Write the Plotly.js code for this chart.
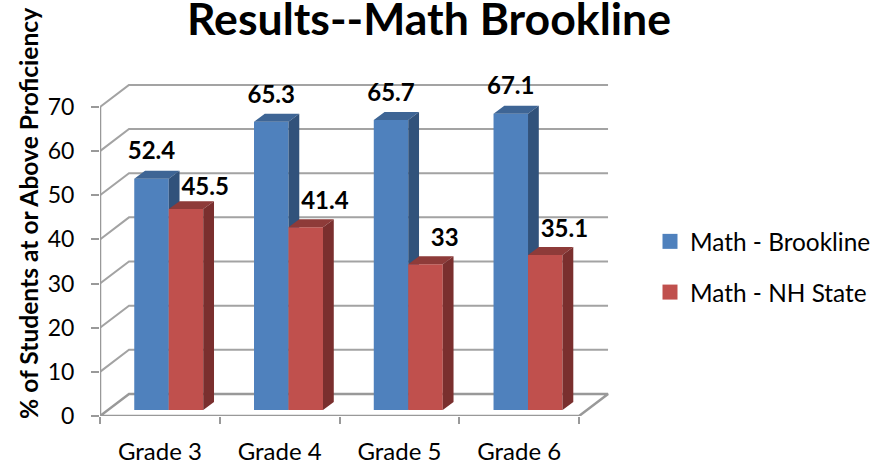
<!DOCTYPE html>
<html>
<head>
<meta charset="utf-8">
<script src="https://cdn.plot.ly/plotly-3.0.1.min.js"></script>
<style>html,body{margin:0;padding:0;background:#fff}</style>
</head>
<body>
<div id="chart" style="width:888px;height:464px"></div>
<script>
const categories = ["Grade 3", "Grade 4", "Grade 5", "Grade 6"];
const brookline = [52.4, 65.3, 65.7, 67.1];
const nhState = [45.5, 41.4, 33, 35.1];
const seriesNames = ["Math - Brookline", "Math - NH State"];
const yTicks = [0, 10, 20, 30, 40, 50, 60, 70];

const FONT = "Lato, Carlito, sans-serif";
const GRID = "#A3A3A3";
const AXIS = "#999999";
const wallDX = 0.2422, wallDY = 5;
const barDX = 0.09, barDY = 1.8, barBase = 1.36, barW = 0.288;
const blueX = categories.map((c, i) => i + 0.43);
const redX = categories.map((c, i) => i + 0.718);
const blueLift = [5.8, 5.7, 5.7, 5.9];
const redLift = [4.6, 5.4, 5.4, 5.4];

function faces(xs, vals, kind) {
  const X = [], Y = [];
  xs.forEach((x, i) => {
    const l = x - barW / 2, r = x + barW / 2, t = vals[i] + barBase, b = barBase;
    if (kind === "top") {
      X.push(l, r, r + barDX, l + barDX, l, null);
      Y.push(t, t, t + barDY, t + barDY, t, null);
    } else {
      X.push(r, r + barDX, r + barDX, r, r, null);
      Y.push(b, b + barDY, t + barDY, t, b, null);
    }
  });
  return {x: X, y: Y};
}

const traces = [];
const gx = [], gy = [];
yTicks.slice(1).forEach(v => {
  gx.push(0, wallDX, categories.length + wallDX, null);
  gy.push(v, v + wallDY, v + wallDY, null);
});
traces.push({x: gx, y: gy, mode: "lines", line: {color: GRID, width: 2}, showlegend: false, hoverinfo: "skip", cliponaxis: false});
traces.push({
  x: [0, 0, null, 0, categories.length, categories.length + wallDX, wallDX, 0],
  y: [70, 0, null, 0, 0, wallDY, wallDY, 0],
  mode: "lines", line: {color: AXIS, width: 2.5}, showlegend: false, hoverinfo: "skip", cliponaxis: false
});

function series(xs, vals, name, front, top, side, xa, ya, lgroup) {
  const common = {xaxis: xa, yaxis: ya, showlegend: false, hoverinfo: "skip"};
  traces.push(Object.assign({type: "bar", x: xs, y: vals, base: barBase, width: barW, name: name, marker: {color: front, line: {width: 0}}}, common));
  const t = faces(xs, vals, "top"), s = faces(xs, vals, "side");
  traces.push(Object.assign({x: t.x, y: t.y, mode: "lines", fill: "toself", fillcolor: top, line: {width: 0, color: top}}, common));
  traces.push(Object.assign({x: s.x, y: s.y, mode: "lines", fill: "toself", fillcolor: side, line: {width: 0, color: side}}, common));
  traces.push({x: [null], y: [null], xaxis: xa, yaxis: ya, mode: "markers", name: name, legendgroup: lgroup,
    marker: {symbol: "square", size: 15, color: front}, showlegend: true, hoverinfo: "skip"});
}
series(blueX, brookline, seriesNames[0], "#4F81BD", "#3E6595", "#31527B", "x2", "y2", "a");
series(redX, nhState, seriesNames[1], "#C0504D", "#8E3B39", "#7A2F2E", "x3", "y3", "b");

traces.push({x: blueX, y: brookline.map((v, i) => v + barBase + blueLift[i]), xaxis: "x3", yaxis: "y3", mode: "text",
  text: brookline.map(String), textfont: {family: FONT, size: 24, color: "#000", weight: 700},
  showlegend: false, hoverinfo: "skip", cliponaxis: false});
traces.push({x: redX.map(x => x + 0.16), y: nhState.map((v, i) => v + barBase + redLift[i]), xaxis: "x3", yaxis: "y3", mode: "text",
  text: nhState.map(String), textfont: {family: FONT, size: 24, color: "#000", weight: 700},
  showlegend: false, hoverinfo: "skip", cliponaxis: false});

const xRange = [0, categories.length + wallDX + 0.008];
const yRange = [0, 75.2];
const layout = {
  width: 888, height: 464,
  margin: {l: 100, r: 279, t: 84, b: 48, pad: 0},
  paper_bgcolor: "#fff", plot_bgcolor: "rgba(0,0,0,0)",
  font: {family: FONT, color: "#000"},
  barmode: "overlay",
  showlegend: true,
  title: {text: "Results--Math Brookline", x: 429 / 888, xanchor: "center", y: 0.958, yanchor: "middle", yref: "container",
    font: {family: FONT, size: 44.6, color: "#000", weight: 700}},
  xaxis: {
    range: xRange, showgrid: false, zeroline: false, showline: false, fixedrange: true,
    tickmode: "array", tickvals: categories.map((c, i) => i + 0.5), ticktext: categories,
    ticks: "", ticklabelstandoff: 19, tickfont: {family: FONT, size: 24, color: "#000"},
    minor: {tickmode: "array", tickvals: [0, 1, 2, 3, 4], ticks: "outside", ticklen: 7, tickwidth: 2, tickcolor: AXIS, showgrid: false}
  },
  yaxis: {
    range: yRange, showgrid: false, zeroline: false, showline: false, fixedrange: true,
    tickmode: "array", tickvals: yTicks, ticks: "outside", ticklen: 8, tickwidth: 2, tickcolor: AXIS,
    ticklabelstandoff: 12, tickfont: {family: FONT, size: 23, color: "#000"}
  },
  annotations: [{
    text: "% of Students at or Above Proficiency", textangle: -90, showarrow: false,
    xref: "paper", x: (28 - 100) / 509, xanchor: "center",
    yref: "paper", y: (416 - 214) / 332, yanchor: "middle",
    font: {family: FONT, size: 24.6, color: "#000", weight: 700}
  }],
  xaxis2: {overlaying: "x", range: xRange, visible: false, fixedrange: true},
  yaxis2: {overlaying: "y", range: yRange, visible: false, fixedrange: true},
  xaxis3: {overlaying: "x", range: xRange, visible: false, fixedrange: true},
  yaxis3: {overlaying: "y", range: yRange, visible: false, fixedrange: true},
  legend: {x: (650 - 100) / 509, xanchor: "left", y: (416 - 267) / 332, yanchor: "middle",
    traceorder: "grouped", tracegroupgap: 16, font: {family: FONT, size: 24.4, color: "#000"}, bgcolor: "rgba(0,0,0,0)"}
};
Plotly.newPlot("chart", traces, layout, {displayModeBar: false, staticPlot: true});
</script>
</body>
</html>
